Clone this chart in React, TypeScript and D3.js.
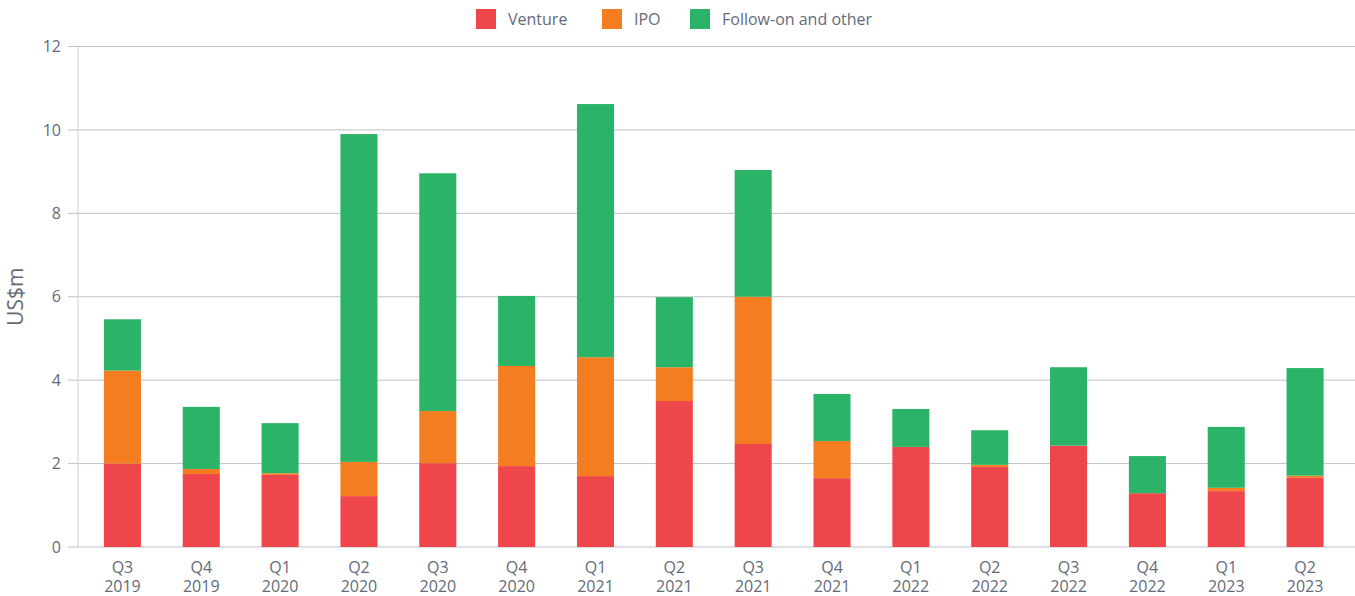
import React from "react";
import { scaleBand, scaleLinear, stack } from "d3";

const quarters = ["Q3", "Q4", "Q1", "Q2", "Q3", "Q4", "Q1", "Q2", "Q3", "Q4", "Q1", "Q2", "Q3", "Q4", "Q1", "Q2"];
const years = ["2019", "2019", "2020", "2020", "2020", "2020", "2021", "2021", "2021", "2021", "2022", "2022", "2022", "2022", "2023", "2023"];
const venture = [2.0, 1.75, 1.73, 1.22, 2.01, 1.94, 1.7, 3.5, 2.47, 1.65, 2.4, 1.92, 2.43, 1.29, 1.34, 1.66];
const ipo = [2.23, 0.12, 0.04, 0.82, 1.25, 2.4, 2.85, 0.81, 3.53, 0.89, 0, 0.05, 0, 0, 0.08, 0.05];
const followOn = [1.23, 1.49, 1.2, 7.86, 5.7, 1.68, 6.07, 1.68, 3.04, 1.13, 0.91, 0.83, 1.88, 0.89, 1.46, 2.58];
const yTicks = [0, 2, 4, 6, 8, 10, 12];

const seriesNames = ["Venture", "IPO", "Follow-on and other"];
const colors = ["#EF464B", "#F47D22", "#2BB467"];

const W = 1355;
const H = 596;
const textColor = "#646B78";
const font = "'Open Sans', sans-serif";

const App = () => {
  const x = scaleBand<number>()
    .domain(quarters.map((_, i) => i))
    .range([83, 1344.5])
    .paddingInner(0.53)
    .paddingOuter(0.265);

  const y = scaleLinear().domain([0, 12]).range([547, 46.5]);

  const rows = quarters.map((_, i) => ({ v: venture[i], i: ipo[i], f: followOn[i] }));
  const layers = stack<any>().keys(["v", "i", "f"])(rows); // venture at the bottom, follow-on on top

  return (
    <svg width={W} height={H} style={{ position: "absolute", left: 0, top: 0 }}>
      {/* gridlines + y ticks */}
      {yTicks.map((t) => (
        <g key={t}>
          <line x1={68} x2={W} y1={y(t)} y2={y(t)} stroke="#BEC2C8" strokeWidth={1} />
          <text x={61} y={y(t)} dy="0.35em" textAnchor="end" fontFamily={font} fontSize={16} fill={textColor}>
            {t}
          </text>
        </g>
      ))}
      <line x1={78} x2={78} y1={y(12)} y2={y(0)} stroke="#C9CDD2" strokeWidth={1} />

      {/* bars */}
      {layers.map((layer, li) => (
        <g key={li} fill={colors[li]}>
          {layer.map((d, i) => (
            <rect key={i} x={x(i)} width={x.bandwidth()} y={y(d[1])} height={Math.max(0, y(d[0]) - y(d[1]))} />
          ))}
        </g>
      ))}

      {/* x labels, two lines */}
      {quarters.map((q, i) => {
        const cx = (x(i) ?? 0) + x.bandwidth() / 2;
        return (
          <g key={i} fontFamily={font} fontSize={16} fill={textColor} textAnchor="middle">
            <text x={cx} y={573}>{q}</text>
            <text x={cx} y={592}>{years[i]}</text>
          </g>
        );
      })}

      {/* y title */}
      <text transform={`translate(23,${y(6)}) rotate(-90)`} textAnchor="middle" fontFamily={font} fontSize={21} fill={textColor}>
        US$m
      </text>

      {/* legend */}
      {seriesNames.map((s, i) => {
        const lx = [476, 602, 690][i];
        return (
          <g key={s}>
            <rect x={lx} y={9} width={20} height={20} fill={colors[i]} />
            <text x={lx + 32} y={19} dy="0.35em" fontFamily={font} fontSize={16} fill={textColor}>
              {s}
            </text>
          </g>
        );
      })}
    </svg>
  );
};

export default App;
